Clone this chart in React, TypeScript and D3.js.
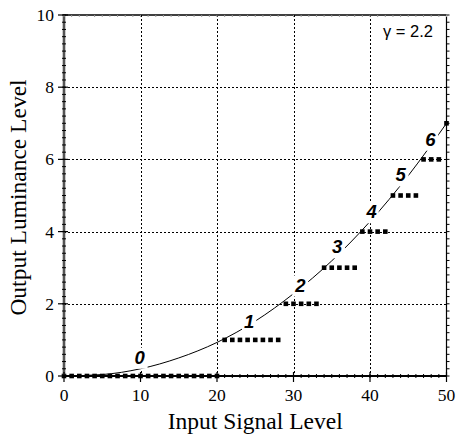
import React, { useEffect, useRef } from 'react'
import * as d3 from 'd3'

const gammaText = 'γ = 2.2'

// quantized output: each level covers a run of integer input levels
const stepLevels = [0, 1, 2, 3, 4, 5, 6, 7]
const stepFirstInput = [0, 21, 29, 34, 39, 43, 47, 50]
const stepLastInput = [20, 28, 33, 38, 42, 46, 49, 50]

// continuous transfer curve
const curveInput = [0, 5, 10, 15, 20, 25, 30, 35, 40, 45, 50]
const curveOutput = [0, 0.04, 0.2, 0.5, 0.93, 1.52, 2.28, 3.19, 4.28, 5.55, 7.0]

// step number labels (data units)
const labelText = ['0', '1', '2', '3', '4', '5', '6']
const labelInput = [9.9, 24.2, 30.9, 35.7, 40.2, 44.0, 47.9]
const labelOutput = [0.52, 1.52, 2.52, 3.58, 4.55, 5.57, 6.56]

const xTicks = [0, 10, 20, 30, 40, 50]
const yTicks = [0, 2, 4, 6, 8, 10]

const W = 457
const H = 434
const margin = { left: 64, top: 15, right: 10.5, bottom: 58 }

function GammaChart() {
    const ref = useRef<SVGSVGElement>(null)

    useEffect(() => {
        const svg = d3.select(ref.current)
        svg.selectAll('*').remove()

        const x = d3.scaleLinear().domain([0, 50]).range([margin.left, W - margin.right])
        const y = d3.scaleLinear().domain([0, 10]).range([H - margin.bottom, margin.top])
        const [x0, x1] = x.range()
        const [y0, y1] = y.range()

        // grid
        const grid = svg.append('g')
            .attr('stroke', '#000')
            .attr('stroke-width', 1)
            .attr('stroke-dasharray', '2,2')
        grid.selectAll('.gx')
            .data(xTicks.slice(1, -1))
            .join('line')
            .attr('x1', d => Math.round(x(d)) + 0.5).attr('x2', d => Math.round(x(d)) + 0.5)
            .attr('y1', y1).attr('y2', y0)
        grid.selectAll('.gy')
            .data(yTicks.slice(1, -1))
            .join('line')
            .attr('class', 'gy')
            .attr('y1', d => Math.round(y(d)) + 0.5).attr('y2', d => Math.round(y(d)) + 0.5)
            .attr('x1', x0).attr('x2', x1)

        // curve
        const pts = curveInput.map((v, i) => [v, curveOutput[i]] as [number, number])
        const line = d3.line<[number, number]>()
            .x(d => x(d[0]))
            .y(d => y(d[1]))
            .curve(d3.curveMonotoneX)
        svg.append('path')
            .datum(pts)
            .attr('d', line)
            .attr('fill', 'none')
            .attr('stroke', '#000')
            .attr('stroke-width', 1)

        // step labels with white backing
        const labels = svg.append('g')
        labelText.forEach((t, i) => {
            const g = labels.append('g')
            const txt = g.append('text')
                .attr('x', x(labelInput[i]))
                .attr('y', y(labelOutput[i]) + 6.5)
                .attr('text-anchor', 'middle')
                .attr('font-family', '"Liberation Sans", Arial, sans-serif')
                .attr('font-weight', 'bold')
                .attr('font-style', 'italic')
                .attr('font-size', 18.5)
                .text(t)
            const bb = (txt.node() as SVGTextElement).getBBox()
            g.insert('rect', 'text')
                .attr('x', bb.x - 2)
                .attr('y', bb.y + 1)
                .attr('width', bb.width + 4)
                .attr('height', bb.height)
                .attr('fill', '#fff')
        })

        // quantized markers, one square per integer input
        const marks: [number, number][] = []
        stepLevels.forEach((lv, i) => {
            for (const v of d3.range(stepFirstInput[i], stepLastInput[i] + 1)) marks.push([v, lv])
        })
        const sq = 4.6
        svg.append('g')
            .selectAll('rect')
            .data(marks)
            .join('rect')
            .attr('x', d => x(d[0]) - sq / 2)
            .attr('y', d => y(d[1]) - sq / 2)
            .attr('width', sq)
            .attr('height', sq)
            .attr('fill', '#000')

        // frame
        const axes = svg.append('g')
        axes.append('line')
            .attr('x1', x0).attr('x2', x1).attr('y1', y1).attr('y2', y1)
            .attr('stroke', '#000').attr('stroke-width', 1.5)
        axes.append('line')
            .attr('x1', x1).attr('x2', x1).attr('y1', y1).attr('y2', y0)
            .attr('stroke', '#000').attr('stroke-width', 1.2)
        axes.append('line')
            .attr('x1', x0).attr('x2', x0).attr('y1', y1 - 1).attr('y2', y0 + 1)
            .attr('stroke', '#555').attr('stroke-width', 2.6)
        axes.append('line')
            .attr('x1', x0 - 1).attr('x2', x1).attr('y1', y0).attr('y2', y0)
            .attr('stroke', '#000').attr('stroke-width', 2)

        // minor ticks
        const minorY = d3.range(0, 10.001, 0.2)
        const minorX = d3.range(0, 50.001, 1)
        axes.selectAll('.my')
            .data(minorY)
            .join('line')
            .attr('x1', x0 - 2).attr('x2', x0 + 2)
            .attr('y1', d => y(d)).attr('y2', d => y(d))
            .attr('stroke', '#000').attr('stroke-width', 1)
        axes.selectAll('.myr')
            .data(minorY)
            .join('line')
            .attr('x1', x1).attr('x2', x1 + 3)
            .attr('y1', d => y(d)).attr('y2', d => y(d))
            .attr('stroke', '#000').attr('stroke-width', 1)
        axes.selectAll('.mx')
            .data(minorX)
            .join('line')
            .attr('x1', d => x(d)).attr('x2', d => x(d))
            .attr('y1', y0 - 2).attr('y2', y0 + 2)
            .attr('stroke', '#000').attr('stroke-width', 1)
        axes.selectAll('.mxt')
            .data(minorX)
            .join('line')
            .attr('x1', d => x(d)).attr('x2', d => x(d))
            .attr('y1', y1).attr('y2', y1 + 2)
            .attr('stroke', '#999').attr('stroke-width', 1)

        // major ticks + labels
        const serif = '"Liberation Serif", "Times New Roman", serif'
        axes.selectAll('.Mx')
            .data(xTicks)
            .join('line')
            .attr('x1', d => x(d)).attr('x2', d => x(d))
            .attr('y1', y0 - 4).attr('y2', y0 + 6)
            .attr('stroke', '#000').attr('stroke-width', 1.2)
        axes.selectAll('.My')
            .data(yTicks)
            .join('line')
            .attr('x1', x0 - 6).attr('x2', x0 + 4)
            .attr('y1', d => y(d)).attr('y2', d => y(d))
            .attr('stroke', '#000').attr('stroke-width', 1.2)
        axes.selectAll('.xl')
            .data(xTicks)
            .join('text')
            .attr('x', d => x(d))
            .attr('y', y0 + 25)
            .attr('text-anchor', 'middle')
            .attr('font-family', serif)
            .attr('font-size', 17.5)
            .text(d => d)
        axes.selectAll('.yl')
            .data(yTicks)
            .join('text')
            .attr('x', x0 - 10)
            .attr('y', d => y(d) + 6)
            .attr('text-anchor', 'end')
            .attr('font-family', serif)
            .attr('font-size', 17.5)
            .text(d => d)

        // titles
        svg.append('text')
            .attr('x', (x0 + x1) / 2)
            .attr('y', 429)
            .attr('text-anchor', 'middle')
            .attr('font-family', serif)
            .attr('font-size', 23.5)
            .text('Input Signal Level')
        svg.append('text')
            .attr('transform', `translate(26,${(y0 + y1) / 2 + 2}) rotate(-90)`)
            .attr('text-anchor', 'middle')
            .attr('font-family', serif)
            .attr('font-size', 23.5)
            .text('Output Luminance Level')

        svg.append('text')
            .attr('x', 433)
            .attr('y', 37)
            .attr('text-anchor', 'end')
            .attr('font-family', '"Liberation Sans", Arial, sans-serif')
            .attr('font-size', 16.5)
            .text(gammaText)
    }, [])

    return <svg ref={ref} width={W} height={H} style={{ position: 'absolute', left: 0, top: 0, background: '#fff' }} />
}

export default function App() {
    return <GammaChart />
}
